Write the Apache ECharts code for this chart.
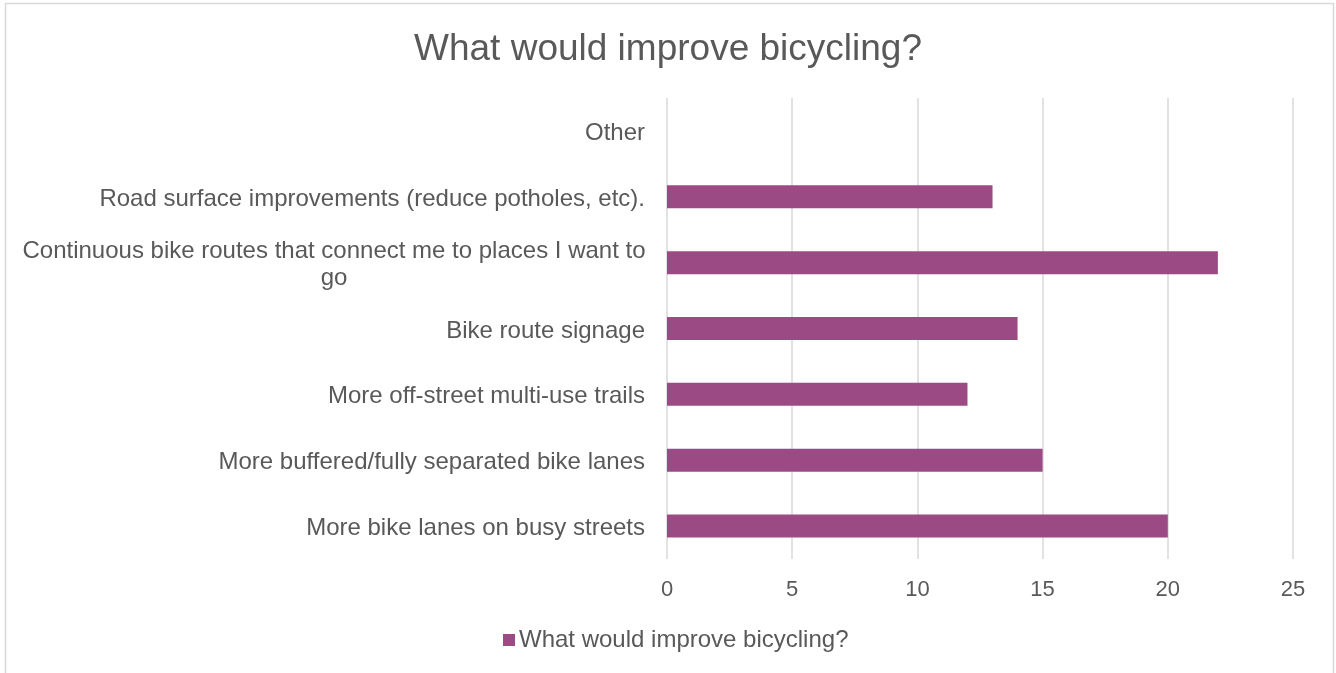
<!DOCTYPE html>
<html>
<head>
<meta charset="utf-8">
<title>What would improve bicycling?</title>
<script src="https://cdn.jsdelivr.net/npm/echarts@6/dist/echarts.min.js"></script>
<style>
    html, body { margin: 0; padding: 0; background: #fff; }
    #main { width: 1336px; height: 673px; }
</style>
</head>
<body>
<div id="main"></div>
<script>
    // categories listed bottom to top, as in the original sheet
    var categories = [
        'More bike lanes on busy streets',
        'More buffered/fully separated bike lanes',
        'More off-street multi-use trails',
        'Bike route signage',
        'Continuous bike routes that connect me to places I want to go',
        'Road surface improvements (reduce potholes, etc).',
        'Other'
    ];
    var counts = [20, 15, 12, 14, 22, 13, 0];
    var xTicks = [0, 5, 10, 15, 20, 25];
    var seriesName = 'What would improve bicycling?';

    var textColor = '#595959';
    var barColor = '#9c4a84';
    var font = '"Liberation Sans", Arial, sans-serif';

    var myChart = echarts.init(document.getElementById('main'));
    var option = {
        backgroundColor: '#fff',
        title: {
            text: 'What would improve bicycling?',
            left: 'center',
            top: 26,
            textStyle: {
                color: textColor,
                fontSize: 37,
                fontWeight: 'normal',
                fontFamily: font
            }
        },
        graphic: [{
            type: 'rect',
            shape: {x: 5.5, y: 3.5, width: 1328, height: 700},
            style: {fill: 'none', stroke: '#d9d9d9', lineWidth: 1.5},
            silent: true
        }],
        legend: {
            data: [seriesName],
            bottom: 16,
            left: 498,
            icon: 'rect',
            itemWidth: 12,
            itemHeight: 12,
            itemGap: 10,
            textStyle: {color: textColor, fontSize: 24, fontFamily: font, padding: [0, 0, 0, -1]}
        },
        grid: {
            left: 667,
            right: 43,
            top: 98,
            bottom: 114,
            containLabel: false
        },
        xAxis: {
            type: 'value',
            min: xTicks[0],
            max: xTicks[xTicks.length - 1],
            interval: xTicks[1] - xTicks[0],
            axisLine: {show: false},
            axisTick: {show: false},
            splitLine: {lineStyle: {color: '#d9d9d9', width: 1.5}},
            axisLabel: {
                color: textColor,
                fontSize: 22,
                fontFamily: font,
                margin: 20
            }
        },
        yAxis: {
            type: 'category',
            data: categories,
            axisLine: {show: false},
            axisTick: {show: false},
            axisLabel: {
                color: textColor,
                fontSize: 24,
                fontFamily: font,
                margin: 22,
                lineHeight: 27,
                padding: [5, 0, 0, 0],
                formatter: function (v) {
                    if (v.length < 55) return v;
                    var cut = v.lastIndexOf(' ');
                    return '{c|' + v.slice(0, cut) + '}\n{c|' + v.slice(cut + 1) + '}';
                },
                rich: {
                    c: {
                        width: 622,
                        align: 'center',
                        color: textColor,
                        fontSize: 24,
                        fontFamily: font,
                        lineHeight: 27
                    }
                }
            }
        },
        series: [{
            name: seriesName,
            type: 'bar',
            data: counts,
            barWidth: 23,
            itemStyle: {color: barColor},
            silent: true
        }]
    };
    window.onresize = myChart.resize;
    myChart.setOption(option);
</script>
</body>
</html>
